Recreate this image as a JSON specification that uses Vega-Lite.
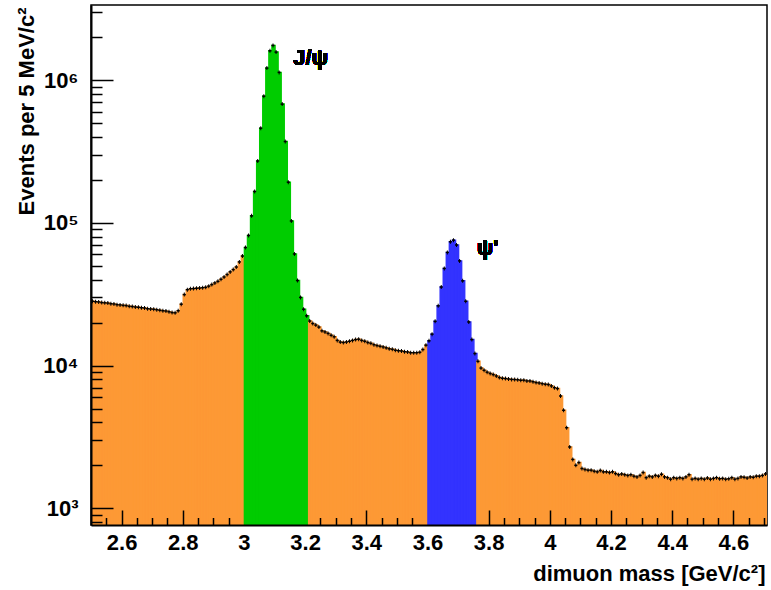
{
  "$schema": "https://vega.github.io/schema/vega-lite/v6.json",
  "width": 676,
  "height": 520,
  "autosize": "none",
  "padding": {"left": 91, "top": 5, "right": 4, "bottom": 65},
  "background": "white",
  "config": {
    "view": {"stroke": "black", "strokeWidth": 1.5},
    "axis": {"zindex": 1},
    "font": "Liberation Sans"
  },
  "data": {
    "values": [
      {"m": 2.505, "n": 28200, "r": "bg"}, {"m": 2.515, "n": 28000, "r": "bg"}, {"m": 2.525, "n": 27900, "r": "bg"},
      {"m": 2.535, "n": 27600, "r": "bg"}, {"m": 2.545, "n": 27500, "r": "bg"}, {"m": 2.555, "n": 27400, "r": "bg"},
      {"m": 2.565, "n": 27100, "r": "bg"}, {"m": 2.575, "n": 27000, "r": "bg"}, {"m": 2.585, "n": 26700, "r": "bg"},
      {"m": 2.595, "n": 26600, "r": "bg"}, {"m": 2.605, "n": 26400, "r": "bg"}, {"m": 2.615, "n": 26300, "r": "bg"},
      {"m": 2.625, "n": 26000, "r": "bg"}, {"m": 2.635, "n": 25900, "r": "bg"}, {"m": 2.645, "n": 25700, "r": "bg"},
      {"m": 2.655, "n": 25600, "r": "bg"}, {"m": 2.665, "n": 25400, "r": "bg"}, {"m": 2.675, "n": 25300, "r": "bg"},
      {"m": 2.685, "n": 25000, "r": "bg"}, {"m": 2.695, "n": 24900, "r": "bg"}, {"m": 2.705, "n": 24800, "r": "bg"},
      {"m": 2.715, "n": 24600, "r": "bg"}, {"m": 2.725, "n": 24400, "r": "bg"}, {"m": 2.735, "n": 24200, "r": "bg"},
      {"m": 2.745, "n": 24100, "r": "bg"}, {"m": 2.755, "n": 23800, "r": "bg"}, {"m": 2.765, "n": 23500, "r": "bg"},
      {"m": 2.775, "n": 23400, "r": "bg"}, {"m": 2.785, "n": 24200, "r": "bg"}, {"m": 2.795, "n": 26900, "r": "bg"},
      {"m": 2.805, "n": 31400, "r": "bg"}, {"m": 2.815, "n": 34000, "r": "bg"}, {"m": 2.825, "n": 34500, "r": "bg"},
      {"m": 2.835, "n": 34600, "r": "bg"}, {"m": 2.845, "n": 34800, "r": "bg"}, {"m": 2.855, "n": 34900, "r": "bg"},
      {"m": 2.865, "n": 35100, "r": "bg"}, {"m": 2.875, "n": 35300, "r": "bg"}, {"m": 2.885, "n": 36000, "r": "bg"},
      {"m": 2.895, "n": 36900, "r": "bg"}, {"m": 2.905, "n": 37900, "r": "bg"}, {"m": 2.915, "n": 38900, "r": "bg"},
      {"m": 2.925, "n": 40200, "r": "bg"}, {"m": 2.935, "n": 41700, "r": "bg"}, {"m": 2.945, "n": 43400, "r": "bg"},
      {"m": 2.955, "n": 45300, "r": "bg"}, {"m": 2.965, "n": 47000, "r": "bg"}, {"m": 2.975, "n": 49000, "r": "bg"},
      {"m": 2.985, "n": 53200, "r": "bg"}, {"m": 2.995, "n": 58500, "r": "bg"},
      {"m": 3.005, "n": 67100, "r": "jpsi"}, {"m": 3.015, "n": 81500, "r": "jpsi"}, {"m": 3.025, "n": 111800, "r": "jpsi"},
      {"m": 3.035, "n": 165700, "r": "jpsi"}, {"m": 3.045, "n": 271000, "r": "jpsi"}, {"m": 3.055, "n": 460000, "r": "jpsi"},
      {"m": 3.065, "n": 771000, "r": "jpsi"}, {"m": 3.075, "n": 1212000, "r": "jpsi"}, {"m": 3.085, "n": 1602000, "r": "jpsi"},
      {"m": 3.095, "n": 1748000, "r": "jpsi"}, {"m": 3.105, "n": 1569000, "r": "jpsi"}, {"m": 3.115, "n": 1131000, "r": "jpsi"},
      {"m": 3.125, "n": 678000, "r": "jpsi"}, {"m": 3.135, "n": 371000, "r": "jpsi"}, {"m": 3.145, "n": 192500, "r": "jpsi"},
      {"m": 3.155, "n": 103000, "r": "jpsi"}, {"m": 3.165, "n": 60500, "r": "jpsi"}, {"m": 3.175, "n": 39400, "r": "jpsi"},
      {"m": 3.185, "n": 30000, "r": "jpsi"}, {"m": 3.195, "n": 24800, "r": "jpsi"}, {"m": 3.205, "n": 22300, "r": "jpsi"},
      {"m": 3.215, "n": 20500, "r": "bg"}, {"m": 3.225, "n": 19700, "r": "bg"}, {"m": 3.235, "n": 19200, "r": "bg"},
      {"m": 3.245, "n": 18600, "r": "bg"}, {"m": 3.255, "n": 17500, "r": "bg"}, {"m": 3.265, "n": 17200, "r": "bg"},
      {"m": 3.275, "n": 16800, "r": "bg"}, {"m": 3.285, "n": 16300, "r": "bg"}, {"m": 3.295, "n": 15900, "r": "bg"},
      {"m": 3.305, "n": 15000, "r": "bg"}, {"m": 3.315, "n": 14600, "r": "bg"}, {"m": 3.325, "n": 14500, "r": "bg"},
      {"m": 3.335, "n": 14600, "r": "bg"}, {"m": 3.345, "n": 14800, "r": "bg"}, {"m": 3.355, "n": 15000, "r": "bg"},
      {"m": 3.365, "n": 15200, "r": "bg"}, {"m": 3.375, "n": 15300, "r": "bg"}, {"m": 3.385, "n": 15000, "r": "bg"},
      {"m": 3.395, "n": 14800, "r": "bg"}, {"m": 3.405, "n": 14500, "r": "bg"}, {"m": 3.415, "n": 14300, "r": "bg"},
      {"m": 3.425, "n": 14000, "r": "bg"}, {"m": 3.435, "n": 13800, "r": "bg"}, {"m": 3.445, "n": 13650, "r": "bg"},
      {"m": 3.455, "n": 13500, "r": "bg"}, {"m": 3.465, "n": 13300, "r": "bg"}, {"m": 3.475, "n": 13100, "r": "bg"},
      {"m": 3.485, "n": 13000, "r": "bg"}, {"m": 3.495, "n": 12800, "r": "bg"}, {"m": 3.505, "n": 12700, "r": "bg"},
      {"m": 3.515, "n": 12650, "r": "bg"}, {"m": 3.525, "n": 12500, "r": "bg"}, {"m": 3.535, "n": 12450, "r": "bg"},
      {"m": 3.545, "n": 12300, "r": "bg"}, {"m": 3.555, "n": 12300, "r": "bg"}, {"m": 3.565, "n": 12300, "r": "bg"},
      {"m": 3.575, "n": 12400, "r": "bg"}, {"m": 3.585, "n": 12950, "r": "bg"}, {"m": 3.595, "n": 13900, "r": "bg"},
      {"m": 3.605, "n": 14900, "r": "psi2"}, {"m": 3.615, "n": 16600, "r": "psi2"}, {"m": 3.625, "n": 20400, "r": "psi2"},
      {"m": 3.635, "n": 26200, "r": "psi2"}, {"m": 3.645, "n": 35500, "r": "psi2"}, {"m": 3.655, "n": 47900, "r": "psi2"},
      {"m": 3.665, "n": 62000, "r": "psi2"}, {"m": 3.675, "n": 73600, "r": "psi2"}, {"m": 3.685, "n": 75600, "r": "psi2"},
      {"m": 3.695, "n": 69900, "r": "psi2"}, {"m": 3.705, "n": 54100, "r": "psi2"}, {"m": 3.715, "n": 39200, "r": "psi2"},
      {"m": 3.725, "n": 28200, "r": "psi2"}, {"m": 3.735, "n": 20200, "r": "psi2"}, {"m": 3.745, "n": 15200, "r": "psi2"},
      {"m": 3.755, "n": 12140, "r": "psi2"},
      {"m": 3.765, "n": 10700, "r": "bg"}, {"m": 3.775, "n": 9600, "r": "bg"}, {"m": 3.785, "n": 9270, "r": "bg"},
      {"m": 3.795, "n": 8990, "r": "bg"}, {"m": 3.805, "n": 8800, "r": "bg"}, {"m": 3.815, "n": 8640, "r": "bg"},
      {"m": 3.825, "n": 8450, "r": "bg"}, {"m": 3.835, "n": 8240, "r": "bg"}, {"m": 3.845, "n": 8150, "r": "bg"},
      {"m": 3.855, "n": 8100, "r": "bg"}, {"m": 3.865, "n": 8050, "r": "bg"}, {"m": 3.875, "n": 8000, "r": "bg"},
      {"m": 3.885, "n": 7980, "r": "bg"}, {"m": 3.895, "n": 7950, "r": "bg"}, {"m": 3.905, "n": 7890, "r": "bg"},
      {"m": 3.915, "n": 7900, "r": "bg"}, {"m": 3.925, "n": 7800, "r": "bg"}, {"m": 3.935, "n": 7800, "r": "bg"},
      {"m": 3.945, "n": 7700, "r": "bg"}, {"m": 3.955, "n": 7600, "r": "bg"}, {"m": 3.965, "n": 7550, "r": "bg"},
      {"m": 3.975, "n": 7470, "r": "bg"}, {"m": 3.985, "n": 7400, "r": "bg"}, {"m": 3.995, "n": 7360, "r": "bg"},
      {"m": 4.005, "n": 7200, "r": "bg"}, {"m": 4.015, "n": 7000, "r": "bg"}, {"m": 4.025, "n": 6900, "r": "bg"},
      {"m": 4.035, "n": 6120, "r": "bg"}, {"m": 4.045, "n": 4860, "r": "bg"}, {"m": 4.055, "n": 3670, "r": "bg"},
      {"m": 4.065, "n": 2690, "r": "bg"}, {"m": 4.075, "n": 2200, "r": "bg"}, {"m": 4.085, "n": 2000, "r": "bg"},
      {"m": 4.095, "n": 2090, "r": "bg"},
      {"m": 4.105, "n": 1900, "r": "bg"}, {"m": 4.115, "n": 1870, "r": "bg"}, {"m": 4.125, "n": 1850, "r": "bg"},
      {"m": 4.135, "n": 1850, "r": "bg"}, {"m": 4.145, "n": 1820, "r": "bg"}, {"m": 4.155, "n": 1800, "r": "bg"},
      {"m": 4.165, "n": 1840, "r": "bg"}, {"m": 4.175, "n": 1800, "r": "bg"}, {"m": 4.185, "n": 1800, "r": "bg"},
      {"m": 4.195, "n": 1780, "r": "bg"}, {"m": 4.205, "n": 1800, "r": "bg"}, {"m": 4.215, "n": 1750, "r": "bg"},
      {"m": 4.225, "n": 1720, "r": "bg"}, {"m": 4.235, "n": 1740, "r": "bg"}, {"m": 4.245, "n": 1720, "r": "bg"},
      {"m": 4.255, "n": 1700, "r": "bg"}, {"m": 4.265, "n": 1720, "r": "bg"}, {"m": 4.275, "n": 1680, "r": "bg"},
      {"m": 4.285, "n": 1660, "r": "bg"}, {"m": 4.295, "n": 1700, "r": "bg"}, {"m": 4.305, "n": 1780, "r": "bg"},
      {"m": 4.315, "n": 1640, "r": "bg"}, {"m": 4.325, "n": 1680, "r": "bg"}, {"m": 4.335, "n": 1660, "r": "bg"},
      {"m": 4.345, "n": 1700, "r": "bg"}, {"m": 4.355, "n": 1680, "r": "bg"}, {"m": 4.365, "n": 1730, "r": "bg"},
      {"m": 4.375, "n": 1660, "r": "bg"}, {"m": 4.385, "n": 1640, "r": "bg"}, {"m": 4.395, "n": 1600, "r": "bg"},
      {"m": 4.405, "n": 1640, "r": "bg"}, {"m": 4.415, "n": 1620, "r": "bg"}, {"m": 4.425, "n": 1640, "r": "bg"},
      {"m": 4.435, "n": 1620, "r": "bg"}, {"m": 4.445, "n": 1660, "r": "bg"}, {"m": 4.455, "n": 1720, "r": "bg"},
      {"m": 4.465, "n": 1600, "r": "bg"}, {"m": 4.475, "n": 1620, "r": "bg"}, {"m": 4.485, "n": 1600, "r": "bg"},
      {"m": 4.495, "n": 1620, "r": "bg"}, {"m": 4.505, "n": 1600, "r": "bg"}, {"m": 4.515, "n": 1630, "r": "bg"},
      {"m": 4.525, "n": 1600, "r": "bg"}, {"m": 4.535, "n": 1620, "r": "bg"}, {"m": 4.545, "n": 1640, "r": "bg"},
      {"m": 4.555, "n": 1610, "r": "bg"}, {"m": 4.565, "n": 1620, "r": "bg"}, {"m": 4.575, "n": 1600, "r": "bg"},
      {"m": 4.585, "n": 1610, "r": "bg"}, {"m": 4.595, "n": 1640, "r": "bg"}, {"m": 4.605, "n": 1600, "r": "bg"},
      {"m": 4.615, "n": 1620, "r": "bg"}, {"m": 4.625, "n": 1660, "r": "bg"}, {"m": 4.635, "n": 1650, "r": "bg"},
      {"m": 4.645, "n": 1630, "r": "bg"}, {"m": 4.655, "n": 1660, "r": "bg"}, {"m": 4.665, "n": 1650, "r": "bg"},
      {"m": 4.675, "n": 1680, "r": "bg"}, {"m": 4.685, "n": 1680, "r": "bg"}, {"m": 4.695, "n": 1700, "r": "bg"},
      {"m": 4.705, "n": 1740, "r": "bg"}
    ]
  },
  "layer": [
    {
      "mark": {"type": "bar", "strokeWidth": 1.5, "binSpacing": 0, "clip": true},
      "encoding": {
        "x": {
          "field": "m",
          "type": "quantitative",
          "bin": {"step": 0.01, "extent": [2.5, 4.71]},
          "scale": {"domain": [2.5, 4.71], "nice": false, "zero": false},
          "axis": {
            "values": [2.55, 2.6, 2.65, 2.7, 2.75, 2.8, 2.85, 2.9, 2.95, 3, 3.05, 3.1, 3.15, 3.2, 3.25, 3.3, 3.35, 3.4, 3.45, 3.5, 3.55, 3.6, 3.65, 3.7, 3.75, 3.8, 3.85, 3.9, 3.95, 4, 4.05, 4.1, 4.15, 4.2, 4.25, 4.3, 4.35, 4.4, 4.45, 4.5, 4.55, 4.6, 4.65, 4.7],
            "labelExpr": "indexof([2.6, 2.8, 3, 3.2, 3.4, 3.6, 3.8, 4, 4.2, 4.4, 4.6], datum.value) >= 0 ? '' + datum.value : ''",
            "ticks": true,
            "tickSize": {"condition": {"test": "indexof([2.6, 2.8, 3, 3.2, 3.4, 3.6, 3.8, 4, 4.2, 4.4, 4.6], datum.value) >= 0", "value": -15}, "value": -7.5},
            "tickColor": {"condition": {"test": "indexof([3, 3.05, 3.1, 3.15, 3.2, 3.6, 3.65, 3.7, 3.75], datum.value) >= 0", "value": "transparent"}, "value": "black"},
            "tickWidth": 1.5,
            "domainColor": "black",
            "domainWidth": 2,
            "grid": false,
            "labelFont": "Liberation Sans",
            "labelFontWeight": "bold",
            "labelFontSize": 22,
            "labelColor": "black",
            "labelPadding": 22,
            "labelFlush": false,
            "labelOverlap": false,
            "title": "dimuon mass [GeV/c²]",
            "titleFont": "Liberation Sans",
            "titleFontWeight": "bold",
            "titleFontSize": 22,
            "titleColor": "black",
            "titleX": 674,
            "titleY": 55,
            "titleAlign": "right",
            "titleBaseline": "alphabetic",
            "zindex": 1
          }
        },
        "y": {
          "field": "n",
          "type": "quantitative",
          "scale": {"type": "log", "domain": [764, 3354000], "nice": false},
          "axis": {
            "values": [800, 900, 1000, 2000, 3000, 4000, 5000, 6000, 7000, 8000, 9000, 10000, 20000, 30000, 40000, 50000, 60000, 70000, 80000, 90000, 100000, 200000, 300000, 400000, 500000, 600000, 700000, 800000, 900000, 1000000, 2000000, 3000000],
            "labelExpr": "datum.value == 1000 ? '10³' : datum.value == 10000 ? '10⁴' : datum.value == 100000 ? '10⁵' : datum.value == 1000000 ? '10⁶' : ''",
            "ticks": true,
            "tickSize": {"condition": {"test": "indexof([1000, 10000, 100000, 1000000], datum.value) >= 0", "value": -22}, "value": -11},
            "tickColor": "black",
            "tickWidth": 1.5,
            "domainColor": "black",
            "domainWidth": 2,
            "grid": false,
            "labelFont": "Liberation Sans",
            "labelFontWeight": "bold",
            "labelFontSize": 22,
            "labelColor": "black",
            "labelPadding": 35,
            "labelBaseline": "middle",
            "labelFlush": false,
            "labelOverlap": false,
            "title": "Events per 5 MeV/c²",
            "titleFont": "Liberation Sans",
            "titleFontWeight": "bold",
            "titleFontSize": 22,
            "titleColor": "black",
            "titleAngle": -90,
            "titleX": -58,
            "titleY": 2,
            "titleAlign": "right",
            "titleBaseline": "alphabetic",
            "zindex": 1
          }
        },
        "y2": {"datum": 764},
        "color": {
          "field": "r",
          "type": "nominal",
          "scale": {"domain": ["bg", "jpsi", "psi2"], "range": ["#fd9935", "#00cc00", "#3333ff"]},
          "legend": null
        },
        "stroke": {
          "field": "r",
          "type": "nominal",
          "scale": {"domain": ["bg", "jpsi", "psi2"], "range": ["#fd9935", "#00cc00", "#3333ff"]},
          "legend": null
        }
      }
    },
    {
      "mark": {"type": "tick", "orient": "horizontal", "size": 3.1, "thickness": 1.5, "color": "black", "opacity": 1},
      "encoding": {
        "x": {"field": "m", "type": "quantitative"},
        "y": {"field": "n", "type": "quantitative"}
      }
    },
    {
      "mark": {"type": "tick", "orient": "vertical", "size": 4, "thickness": 1, "color": "black", "opacity": 1},
      "encoding": {
        "x": {"field": "m", "type": "quantitative"},
        "y": {"field": "n", "type": "quantitative"}
      }
    },
    {
      "mark": {"type": "text", "text": "J/ψ", "font": "Liberation Sans", "fontWeight": "bold", "fontSize": 22, "align": "left", "baseline": "alphabetic", "color": "black"},
      "encoding": {
        "x": {"datum": 3.161},
        "y": {"datum": 1272000}
      }
    },
    {
      "mark": {"type": "text", "text": "ψ'", "font": "Liberation Sans", "fontWeight": "bold", "fontSize": 22, "align": "left", "baseline": "alphabetic", "color": "black"},
      "encoding": {
        "x": {"datum": 3.761},
        "y": {"datum": 59300}
      }
    }
  ]
}
